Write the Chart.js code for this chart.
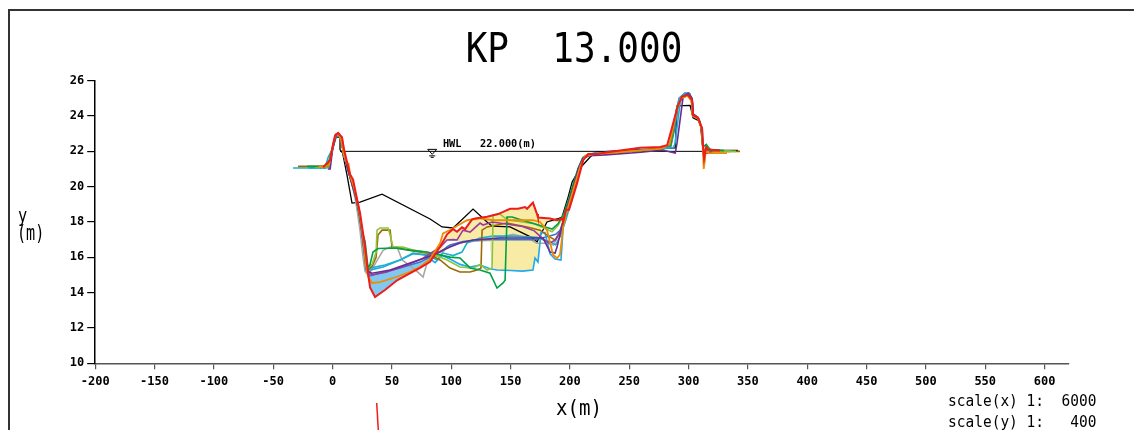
<!DOCTYPE html>
<html>
<head>
<meta charset="utf-8">
<script src="https://cdn.jsdelivr.net/npm/chart.js@4.4.0/dist/chart.umd.min.js"></script>
<style>
  html, body { margin: 0; padding: 0; background: #fff; }
  #wrap { width: 1134px; height: 430px; overflow: hidden; }
</style>
</head>
<body>
<div id="wrap"><canvas id="KpSection" width="1134" height="430"></canvas></div>
<script>
// KP 13.000 cross section
var sectionTitle = 'KP  13.000';
var hwlLevel = 22.0;
var hwlLabel = 'HWL   22.000(m)';
var scaleLabels = ['scale(x) 1:  6000', 'scale(y) 1:   400'];
var xTickValues = [-200, -150, -100, -50, 0, 50, 100, 150, 200, 250, 300, 350, 400, 450, 500, 550, 600];
var yTickValues = [10, 12, 14, 16, 18, 20, 22, 24, 26];

// surveyed lines [x(m), y(m)]
var redLine = [[-8,21.1],[-2.1,21.5],[0.4,22.4],[2.1,22.9],[4.6,23.05],[8,22.8],[9.7,22.1],[12.2,21.4],[14.7,20.7],[17.3,20.4],[20,19.5],[23.2,18.5],[27.4,16.6],[29.9,15.1],[31.6,14.3],[35.8,13.75],[44.2,14.15],[54.4,14.7],[62.8,15.0],[73.7,15.4],[82.2,15.75],[90.6,16.6],[96.5,17.3],[101.6,17.6],[104.9,17.45],[109.1,17.7],[111.7,17.6],[117.6,18.15],[120.1,18.2],[130.2,18.3],[139.5,18.45],[149.6,18.75],[156.3,18.75],[162.2,18.85],[163.9,18.75],[168.9,19.1],[172.3,18.45],[173.1,18.25],[183.3,18.2],[189.2,18.1],[193.4,18.2],[194.3,18.0],[196.8,18.7],[199.3,18.7],[206.1,20.2],[211.2,21.5],[215.4,21.85],[223.9,21.85],[231.5,21.95],[259.3,22.2],[276.1,22.25],[282,22.35],[291.1,24.6],[294.5,25.1],[299.6,25.2],[303,24.9],[303.8,24.05],[308,23.9],[311.4,23.3],[312.2,22.25],[313.1,21.6],[314.8,22.25],[316.4,22.1],[326.5,22.05]];
var orangeLine = [[-12,21.1],[-3,21.2],[0.5,22.4],[2.5,22.95],[5,23.0],[7.5,22.6],[9.5,21.8],[12.2,21.3],[13.5,21.3],[15,20.6],[17.5,20.1],[20.5,19.3],[23.5,18.2],[26,17.0],[28,15.6],[30,14.9],[33.3,14.55],[40,14.6],[54.4,14.9],[62.8,15.1],[73.7,15.45],[82.2,15.9],[90.6,16.8],[93.1,17.35],[99,17.55],[113.3,18.1],[124.3,18.2],[135.3,18.1],[152.1,18.1],[168.9,18.1],[174.8,18.0],[180.7,17.55],[185.8,16.15],[189.2,15.95],[191.7,16.15],[194.3,17.7],[197,18.5],[201,19.4],[205,20.3],[209,21.2],[213,21.75],[220,21.85],[240,21.95],[260,22.05],[277,22.15],[284,22.4],[290,24.3],[293.5,25.0],[299,25.15],[302.5,24.85],[303.5,24.0],[308,23.85],[311,23.25],[312,22.2],[312.8,21.0],[314.5,22.0],[317,21.9],[332.4,21.9]];
var purpleLine = [[-4,21.0],[-2,21.0],[0,22.1],[3,22.9],[5,23.0],[7.5,22.6],[9.5,21.8],[12,21.2],[14.5,20.6],[17,20.0],[20,19.3],[23,18.3],[25.5,17.0],[28,15.6],[30,15.2],[33.3,15.1],[48.5,15.28],[65.3,15.68],[79.6,16.01],[88.1,16.24],[99,16.58],[107.4,16.81],[118.4,16.98],[132.7,17.05],[141.1,17.09],[168.9,17.09],[177.4,17.09],[183.3,16.3],[187.5,16.24],[189.2,16.58],[191.7,17.3],[195,18.2],[199,19.1],[203,20.0],[207,21.0],[211,21.6],[216,21.75],[230,21.8],[260,21.95],[277.8,22.08],[288.8,21.91],[290.3,22.47],[295.4,25.08],[299.6,25.3],[303,25.0],[304,24.1],[308,23.9],[311,23.3],[312,22.3],[313,21.9],[314.8,21.9],[320,21.95]];
var violetLine = [[29.5,15.3],[33,15.0],[45,15.15],[60,15.5],[75,15.9],[90.6,16.58],[96.5,16.98],[101.6,17.0],[104.9,16.98],[110,17.54],[115.9,17.43],[124.3,17.94],[126.8,17.83],[134.4,18.0],[145,17.9],[160,17.75],[170,17.5],[178,17.0],[183,16.8],[188,17.0],[192,17.5],[196,18.4]];
var greenLine = [[-21.5,21.15],[-4,21.15],[0,22.2],[3,22.95],[5,23.0],[7.5,22.6],[9.5,21.8],[11,21.6],[13,21.0],[15,20.5],[17.5,20.0],[20.5,19.2],[23.5,18.0],[25.7,17.3],[27.4,16.9],[29.9,15.4],[31.6,15.6],[34.1,16.3],[38.3,16.5],[54.4,16.53],[65.3,16.41],[79.6,16.3],[99,16.01],[107.4,15.96],[115.9,15.4],[124.3,15.28],[132.7,15.1],[138.6,14.26],[143.7,14.55],[145.4,14.7],[147,18.28],[151.3,18.28],[160,18.1],[170,17.9],[180,17.7],[185,17.6],[190,17.9],[195,18.5],[199,19.3],[203,20.2],[207,21.05],[211,21.65],[217,21.85],[240,21.95],[260,22.05],[278,22.2],[285,22.35],[290,24.4],[294,25.05],[299.5,25.15],[302.5,24.9],[303.5,24.05],[308,23.85],[311,23.3],[312,22.4],[313,22.3],[315,22.4],[318,22.1],[330,22.05]];
var yellowGreenLine = [[-15,21.1],[-4,21.1],[0,22.2],[3,22.95],[5,23.0],[7.5,22.6],[9.5,21.8],[12,21.2],[14.5,20.6],[17,20.0],[20,19.3],[23,18.3],[25.5,17.1],[28,15.7],[29.9,15.4],[33.3,15.6],[36.7,16.3],[37.5,17.54],[40,17.66],[46.8,17.66],[48.5,17.26],[51,16.58],[59.4,16.58],[67.8,16.41],[82.2,16.24],[96.5,15.85],[107.4,15.45],[118.4,15.39],[124.3,15.6],[130.2,15.28],[134.4,15.39],[135.3,18.39],[141.1,18.45],[145.4,18.22],[150,18.1],[160,18.0],[170,17.9],[180,17.6],[185,17.45],[190,17.8],[195,18.4],[199,19.2],[203,20.1],[207,21.0],[211,21.65],[217,21.85],[240,21.95],[260,22.05],[278,22.2],[285,22.35],[290,24.4],[294,25.05],[299.5,25.15],[302.5,24.9],[303.5,24.05],[308,23.85],[311,23.3],[312,22.3],[313,22.0],[315,22.3],[320,22.05],[340,22.0]];
var brownLine = [[-29.1,21.15],[-4,21.15],[0,22.2],[3,22.95],[5,23.0],[7.5,22.6],[9.5,21.8],[12,21.2],[14.5,20.6],[17,20.0],[20,19.3],[23,18.3],[25.5,17.1],[28,15.7],[29.9,15.3],[33.3,15.5],[36.7,16.0],[38.3,17.26],[41.7,17.54],[48.5,17.54],[50.1,16.58],[52.7,16.53],[62.8,16.41],[79.6,16.24],[90.6,15.85],[99,15.39],[107.4,15.17],[115.9,15.17],[121.8,15.28],[125.1,15.39],[126,17.54],[130.2,17.72],[147,17.94],[163.9,17.72],[174.8,17.54],[183.3,17.14],[187.5,16.98],[191.7,17.43],[195.9,18.39],[200,19.2],[204,20.1],[208,21.0],[212,21.65],[218,21.85],[240,21.95],[260,22.05],[278,22.2],[285,22.35],[290,24.4],[294,25.05],[299.5,25.15],[302.5,24.9],[303.5,24.05],[308,23.85],[311,23.3],[312,22.3],[313,21.8],[315,22.1],[320,22.0],[343.4,22.0]];
var cyanLine = [[-33.3,21.06],[-6.3,21.06],[-3.8,21.65],[-0.4,22.1],[3.8,22.95],[5.5,23.0],[8,22.7],[10,21.9],[13,21.1],[16,20.4],[19.5,19.6],[23,18.5],[25.5,17.0],[28,15.5],[31.6,15.28],[42.6,15.45],[56.9,15.85],[67.8,16.24],[79.6,16.13],[88.1,15.85],[93.1,16.24],[101.6,16.1],[109.1,16.3],[113.3,16.81],[124.3,17.09],[135.3,17.2],[152.1,17.2],[172.3,17.14],[177.4,17.0],[183,16.9],[188,16.7],[192,17.2],[196.5,18.1],[200,18.9],[204,19.9],[208,21.0],[212,21.7],[218,21.85],[240,21.95],[260,22.05],[278,22.15],[287,22.2],[288.5,22.4],[293,24.8],[296,25.2],[300.5,25.3],[303,24.95],[304,24.1],[308.5,23.85],[311.5,23.3],[312.5,22.2],[313.5,21.45],[315,22.25],[318,22.0],[330,22.0]];
var skyLine = [[-20,21.05],[-4,21.1],[0,22.2],[3,22.95],[5,23.0],[7.5,22.6],[9.5,21.8],[12,21.2],[15,20.5],[18,19.9],[21,19.0],[24,17.8],[26.5,16.4],[29,15.4],[31.6,15.39],[44.2,15.56],[56.9,15.85],[67.8,16.2],[77.9,16.13],[86.4,15.7],[92.3,16.1],[99,15.9],[107.4,15.6],[115.9,15.45],[124.3,15.56],[132.7,15.35],[138.6,15.28],[150,15.25],[160,15.22],[168.9,15.28],[170.6,15.96],[173.1,15.73],[175.7,17.4],[179,17.4],[183.3,16.2],[187.5,15.9],[192.5,15.85],[193.4,16.7],[194.3,17.7],[197,18.5],[201,19.4],[205,20.4],[209,21.2],[213,21.75],[220,21.9],[250,22.0],[280,22.2],[284,22.3],[288,23.8],[292,25.0],[297,25.3],[301,25.25],[303,24.9],[304,24.1],[308,23.9],[311,23.3],[312,22.4],[313,21.6],[315,22.2],[320,22.05],[335,22.0]];
var blueLine = [[-8,21.05],[-3,21.1],[0,22.1],[3,22.95],[5,23.0],[7.5,22.6],[9.5,21.8],[12,21.2],[14.5,20.6],[17,20.0],[20,19.3],[23,18.3],[25.5,17.0],[28.2,15.28],[31.6,14.95],[40,15.11],[56.9,15.39],[73.7,15.73],[90.6,16.3],[99,16.7],[110,16.9],[124.3,17.0],[150,17.0],[170,17.0],[180,17.15],[188,17.3],[193,17.6],[196,18.3],[200,19.2],[204,20.1],[208,21.0],[212,21.65],[218,21.85],[240,21.95],[260,22.05],[278,22.15],[285,22.25],[289,23.5],[292,25.0],[297,25.3],[301,25.25],[303,24.9],[304,24.1],[308,23.9],[311,23.3],[312,22.3],[313,21.9],[320,21.95]];
var grayLine = [[-10,21.1],[-3,21.1],[0.5,22.3],[3,22.95],[5,23.0],[7.5,22.6],[9.5,21.8],[12,21.2],[14.5,20.6],[17,20.0],[20,19.0],[23.2,17.5],[25.7,16.0],[27.4,15.2],[29.9,15.0],[33,15.3],[42.6,16.4],[48.5,16.58],[54.4,16.58],[58.6,15.85],[69.5,15.3],[76.3,14.89],[80.5,15.9],[90.6,16.1],[96.5,16.6],[110,16.85],[126,16.95],[140,17.1],[152,17.3],[165,17.1],[172,16.8],[181.6,16.8],[186,16.7],[190,17.2],[195,18.2],[199,19.1],[203,20.0],[207,21.0],[211,21.6],[217,21.85],[240,21.95],[260,22.05],[278,22.2],[285,22.35],[290,24.4],[294,25.05],[299.5,25.15],[302.5,24.9],[303.5,24.05],[308,23.85],[311,23.3],[312,22.3],[313,22.0],[320,22.0],[336,22.0]];
var oldLine = [[-10.5,21.05],[-2.1,21.35],[1,22.5],[2.9,22.8],[6.3,22.8],[6.3,22.1],[8.5,21.9],[12.2,20.66],[16.4,19.07],[23.2,19.13],[41.7,19.58],[82.2,18.17],[92.3,17.72],[101.6,17.66],[118.4,18.73],[130.2,18.0],[134.4,17.77],[149.6,17.72],[168.9,17.09],[172.3,16.87],[180.7,18.0],[189.2,18.17],[193.4,18.28],[198.5,19.41],[201.9,20.26],[208.6,21.06],[217.1,21.68],[222,21.96],[259.3,22.1],[288.8,22.2],[290.3,24.57],[301.3,24.6],[303.8,23.9],[309.7,23.7],[312.2,22.1],[316.4,22.05],[341.7,22.05]];
var hwlLine = [[6.3, hwlLevel], [341.7, hwlLevel]];
var strayRed = [[37.2, 7.75], [38.6, 6.2]];
// reference bed for the scour / deposit shading
var baseLine = [[28.2,15.28],[31.6,14.95],[40,15.11],[56.9,15.39],[73.7,15.73],[90.6,16.3],[96.5,16.98],[107.4,16.9],[124.3,16.9],[132.7,16.87],[134.4,15.5],[138.6,15.28],[168.9,15.28],[170.6,15.96],[173.1,15.73],[175.7,17.66],[181.6,18.0],[191.7,18.0],[196.8,18.56]];

var mono = '"DejaVu Sans Mono", "Liberation Mono", monospace';

function lineSet(data, color, width) {
  return { data: data, borderColor: color, borderWidth: width, pointRadius: 0, tension: 0, fill: false };
}

var datasets = [
  lineSet(redLine, '#ee1c1c', 2),
  lineSet(orangeLine, '#f08c00', 1.8),
  lineSet(purpleLine, '#6a2c91', 1.6),
  lineSet(violetLine, '#9a3a9e', 1.6),
  lineSet(greenLine, '#00a046', 1.6),
  lineSet(yellowGreenLine, '#8cc63f', 1.6),
  lineSet(brownLine, '#9c6a00', 1.6),
  lineSet(cyanLine, '#1ab0c8', 1.6),
  lineSet(skyLine, '#20a8ec', 1.6),
  lineSet(blueLine, '#3a74c8', 1.6),
  lineSet(grayLine, '#a8a8a8', 1.6),
  lineSet(oldLine, '#000000', 1.3),
  lineSet(hwlLine, '#000000', 1)
];
var stray = lineSet(strayRed, '#ee1c1c', 1.5);
stray.clip = false;
datasets.push(stray);
var baseIndex = datasets.length;
var base = lineSet(baseLine, 'rgba(0,0,0,0)', 0);
datasets.push(base);
datasets[0].fill = { target: baseIndex, above: '#f7eba6', below: '#80c8ef' };

var sectionText = {
  id: 'sectionText',
  afterDraw: function (chart) {
    var ctx = chart.ctx;
    var xs = chart.scales.x, ys = chart.scales.y;
    function put(txt, x, y, font, sx, sy, align) {
      ctx.save();
      ctx.translate(x, y);
      ctx.scale(sx, sy);
      ctx.font = font;
      ctx.fillStyle = '#000';
      ctx.textAlign = align || 'left';
      ctx.textBaseline = 'alphabetic';
      ctx.fillText(txt, 0, 0);
      ctx.restore();
    }
    ctx.save();
    ctx.strokeStyle = '#333';
    ctx.lineWidth = 2;
    ctx.strokeRect(9, 10, 1300, 600);
    ctx.restore();

    put(sectionTitle, 574, 62, '40px ' + mono, 0.9, 1.02, 'center');
    put('y', 18, 222, '18px ' + mono, 0.85, 1.1);
    put('(m)', 17, 240, '21px ' + mono, 0.72, 1.0);
    put('x(m)', 556, 415, '18px ' + mono, 1.06, 1.15);
    put(scaleLabels[0], 948, 406, '14.5px ' + mono, 1, 1.05);
    put(scaleLabels[1], 948, 427, '14.5px ' + mono, 1, 1.05);

    // HWL mark
    var hx = xs.getPixelForValue(84), hy = ys.getPixelForValue(hwlLevel);
    ctx.save();
    ctx.strokeStyle = '#000';
    ctx.lineWidth = 1;
    ctx.beginPath();
    ctx.moveTo(hx - 4.5, hy - 2);
    ctx.lineTo(hx + 4.5, hy - 2);
    ctx.lineTo(hx, hy + 3);
    ctx.closePath();
    ctx.stroke();
    ctx.beginPath();
    ctx.moveTo(hx - 3, hy + 4.5); ctx.lineTo(hx + 3, hy + 4.5);
    ctx.moveTo(hx - 1.5, hy + 6); ctx.lineTo(hx + 1.5, hy + 6);
    ctx.stroke();
    ctx.restore();
    put(hwlLabel, xs.getPixelForValue(93), hy - 4, 'bold 10.3px ' + mono, 1, 1);
  }
};

var ctx = document.getElementById('KpSection').getContext('2d');
var sectionChart = new Chart(ctx, {
  type: 'line',
  data: { datasets: datasets },
  options: {
    responsive: false,
    animation: false,
    devicePixelRatio: 1,
    layout: { padding: { left: 0, top: 80.7, right: 65.7, bottom: 0 } },
    plugins: {
      legend: { display: false },
      tooltip: { enabled: false },
      filler: { drawTime: 'beforeDatasetsDraw' }
    },
    scales: {
      x: {
        type: 'linear',
        min: -200,
        max: 620,
        afterBuildTicks: function (s) { s.ticks = xTickValues.map(function (v) { return { value: v }; }); },
        afterFit: function (s) { s.height = 66.7; },
        border: { display: true, color: '#555', width: 1.5 },
        grid: { drawOnChartArea: false, drawTicks: true, tickLength: 6, color: '#555', lineWidth: 1.2 },
        ticks: { color: '#000', padding: 5, maxRotation: 0, autoSkip: false, font: { family: mono, size: 12, weight: 'bold' } }
      },
      y: {
        type: 'linear',
        min: 10,
        max: 26,
        afterBuildTicks: function (s) { s.ticks = yTickValues.map(function (v) { return { value: v }; }); },
        afterFit: function (s) { s.width = 95.2; },
        border: { display: true, color: '#000', width: 1.5 },
        grid: { drawOnChartArea: false, drawTicks: true, tickLength: 8, color: '#000', lineWidth: 1.2 },
        ticks: { color: '#000', padding: 3, font: { family: mono, size: 12, weight: 'bold' } }
      }
    }
  },
  plugins: [sectionText]
});
</script>
</body>
</html>
